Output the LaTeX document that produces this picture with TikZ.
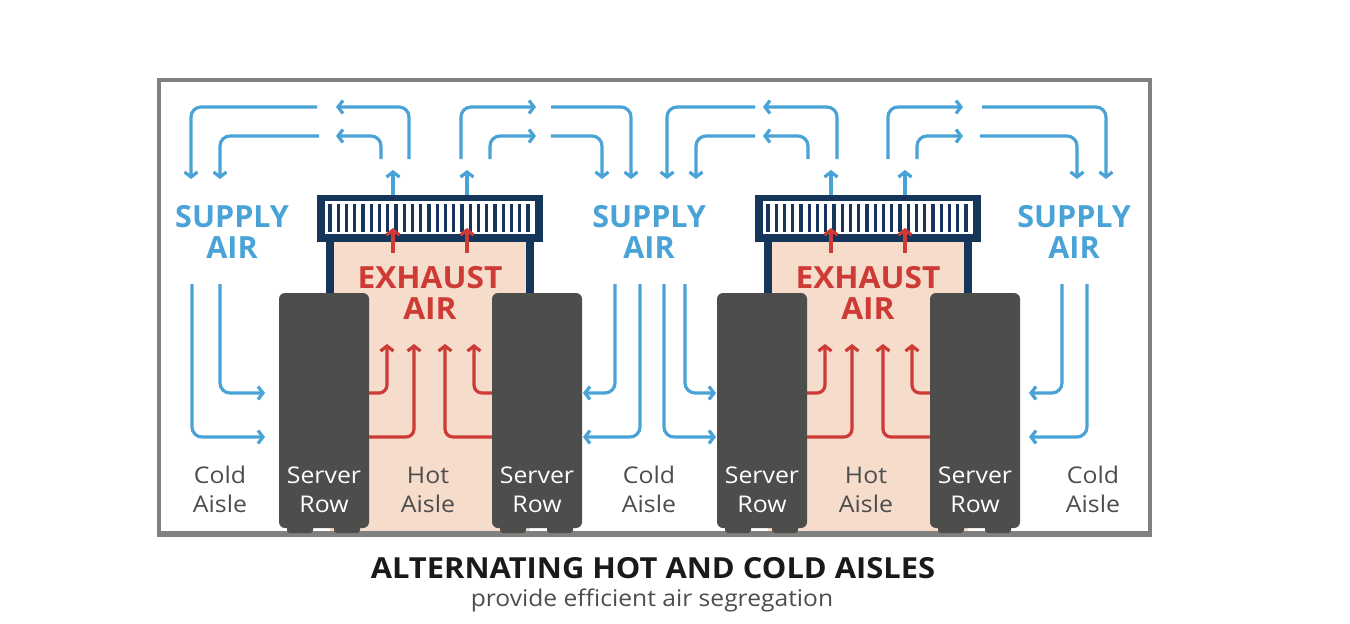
\documentclass[tikz,border=0pt]{standalone}
\usepackage{fontspec}
\usepackage{graphicx}
\setmainfont{Open Sans}
\usetikzlibrary{arrows.meta}
\definecolor{blu}{HTML}{4AA3D7}
\definecolor{redd}{HTML}{CE3A35}
\definecolor{navy}{HTML}{16355A}
\definecolor{peach}{HTML}{F5DCCB}
\definecolor{srv}{HTML}{4D4D4B}
\definecolor{frm}{HTML}{808080}
\definecolor{txtgray}{HTML}{4D4D4D}
\definecolor{ttl}{HTML}{1A1A1A}
\newcommand\sx[1]{\scalebox{1.08}[1]{#1}}
\newcommand\srvrow[1]{%
  \fill[srv, rounded corners=6pt] (#1,293) rectangle ++(90,235);
  \fill[srv, rounded corners=3pt] (#1+8,520) rectangle (#1+34,533);
  \fill[srv, rounded corners=3pt] (#1+55,520) rectangle (#1+81,533);
  \node[lbl, text=white] at (#1+45,483) {\sx{Server}};
  \node[lbl, text=white] at (#1+45,512) {\sx{Row}};
}
\newcommand\hotunit[1]{%
  \begin{scope}[shift={(#1,0)}]
  \fill[peach] (330,242) rectangle (530,531);
  \fill[navy] (326,242) rectangle (334,300);
  \fill[navy] (526,242) rectangle (534,300);
  \fill[navy] (317,195) rectangle (543,242);
  \fill[white] (325,201) rectangle (535,234);
  \foreach \i in {0,...,24} \fill[navy] (330+\i*8.25-1.6,203.5) rectangle ++(3.2,28);
  \draw[rflow] (393,253) -- (393,228);
  \draw[rflow] (467,253) -- (467,228);
  \draw[bflow] (393,195) -- (393,170);
  \draw[bflow] (467,195) -- (467,170);
  \draw[rflow] (369,393) -- (387,393) -- (387,344);
  \draw[rflow] (369,437) -- (414,437) -- (414,344);
  \draw[rflow] (492,437) -- (445,437) -- (445,344);
  \draw[rflow] (492,393) -- (474,393) -- (474,344);
  \node[big, text=redd] at (430,288) {\scalebox{1.04}[1]{EXHAUST}};
  \node[big, text=redd] at (430,319) {\scalebox{1.04}[1]{AIR}};
  \node[lbl, text=txtgray] at (428,483) {\sx{Hot}};
  \node[lbl, text=txtgray] at (428,512) {\sx{Aisle}};
  \end{scope}
}
\begin{document}
\begin{tikzpicture}[x=1pt,y=-1pt,
  bflow/.style={draw=blu,line width=3.2pt,rounded corners=10pt,-{Straight Barb[length=5pt,width=13pt]}},
  rflow/.style={draw=redd,line width=3.2pt,rounded corners=8pt,-{Straight Barb[length=5pt,width=13pt]}},
  lbl/.style={anchor=base,inner sep=0pt,font=\fontsize{23}{23}\selectfont},
  big/.style={anchor=base,inner sep=0pt,font=\fontsize{30.5}{30.5}\selectfont\bfseries},
]
\useasboundingbox (0,0) rectangle (1350,624);
\fill[white] (0,0) rectangle (1350,624);
% frame
\draw[frm, line width=3.5pt] (159,80) rectangle (1150,534);
\draw[frm, line width=6pt] (157,534) -- (1152,534);

\hotunit{0}
\hotunit{438}

\srvrow{279}
\srvrow{492}
\srvrow{717}
\srvrow{930}

% top blue loops, unit 1
\draw[bflow] (409,159) -- (409,107) -- (336,107);
\draw[bflow] (381,159) -- (381,136) -- (336,136);
\draw[bflow] (317,107) -- (191,107) -- (191,179);
\draw[bflow] (319,136) -- (220,136) -- (220,179);
\draw[bflow] (461,159) -- (461,107) -- (536,107);
\draw[bflow] (490,159) -- (490,136) -- (536,136);
\draw[bflow] (551,107) -- (631,107) -- (631,179);
\draw[bflow] (551,136) -- (602,136) -- (602,179);
% unit 2
\draw[bflow] (837,159) -- (837,107) -- (763,107);
\draw[bflow] (808,159) -- (808,136) -- (763,136);
\draw[bflow] (755,107) -- (667,107) -- (667,179);
\draw[bflow] (755,136) -- (696,136) -- (696,179);
\draw[bflow] (888,159) -- (888,107) -- (963,107);
\draw[bflow] (917,159) -- (917,136) -- (963,136);
\draw[bflow] (982,107) -- (1106,107) -- (1106,179);
\draw[bflow] (980,136) -- (1077,136) -- (1077,179);

% cold aisle arrows
\draw[bflow] (192,284) -- (192,437) -- (265,437);
\draw[bflow] (220,284) -- (220,393) -- (265,393);
\draw[bflow] (615,284) -- (615,393) -- (583,393);
\draw[bflow] (640,284) -- (640,437) -- (583,437);
\draw[bflow] (664,284) -- (664,437) -- (716,437);
\draw[bflow] (685,284) -- (685,393) -- (716,393);
\draw[bflow] (1062,284) -- (1062,393) -- (1029,393);
\draw[bflow] (1087,284) -- (1087,437) -- (1029,437);

% supply air labels
\foreach \x in {232,649,1074} {
  \node[big, text=blu] at (\x,227) {SUPPLY};
  \node[big, text=blu] at (\x,258) {AIR};
}
% cold aisle labels
\foreach \x in {220,649,1093} {
  \node[lbl, text=txtgray] at (\x,483) {\sx{Cold}};
  \node[lbl, text=txtgray] at (\x,512) {\sx{Aisle}};
}
% title
\node[anchor=base, inner sep=0pt, text=ttl, font=\fontsize{29}{29}\selectfont\bfseries] (title) at (653,578) {\scalebox{1.065}[1]{ALTERNATING HOT AND COLD AISLES}};
\node[anchor=base, inner sep=0pt, text=txtgray, font=\fontsize{23}{23}\selectfont] (sub) at (652,606) {\scalebox{1.07}[1]{provide efficient air segregation}};
\end{tikzpicture}
\end{document}
